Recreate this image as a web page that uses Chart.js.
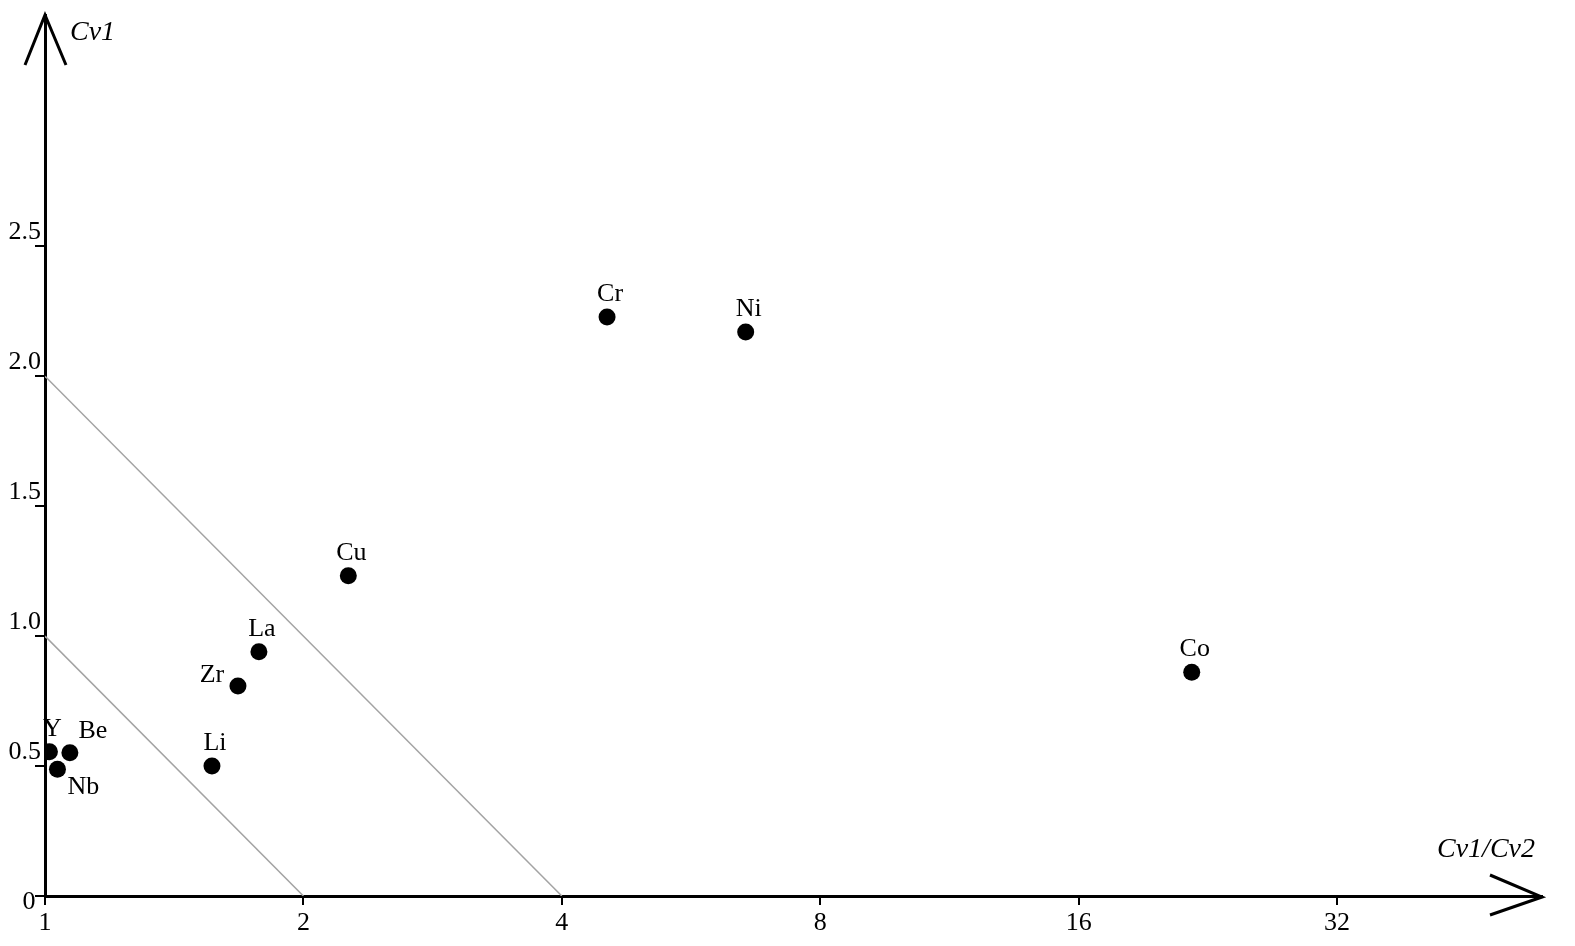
<!DOCTYPE html>
<html>
    <head>
        <title>Cv1 - Cv1/Cv2</title>
        <meta charset="UTF-8">
        <script src="https://cdn.jsdelivr.net/npm/chart.js"></script>
        <style>
            body { margin: 0; background: #fff; }
            canvas { display: block; }
        </style>
    </head>
    <body>
        <canvas id='myChart' width='1575' height='946'></canvas>
        <script>
            // elements and their coordinates
            const elements = ['Y', 'Be', 'Nb', 'Li', 'Zr', 'La', 'Cu', 'Cr', 'Ni', 'Co'];
            const ratioValues = [1.012, 1.069, 1.034, 1.565, 1.678, 1.775, 2.256, 4.516, 6.55, 21.67];
            const cv1Values = [0.555, 0.551, 0.488, 0.500, 0.808, 0.940, 1.232, 2.228, 2.170, 0.861];

            // boundary lines
            const innerLineX = [1, 2];
            const innerLineY = [1, 0];
            const outerLineX = [1, 4];
            const outerLineY = [2, 0];

            // tick labels
            const xTicks = [1, 2, 4, 8, 16, 32];
            const yTicks = [0, 0.5, 1.0, 1.5, 2.0, 2.5];

            // where each element name sits relative to its dot
            let labelPlace = ['top', 'topRight', 'bottomRight', 'top', 'left', 'top', 'top', 'top', 'top', 'top'];
            let placeOffsets = {
                top: [3, -23],
                topRight: [23, -22],
                bottomRight: [26, 18],
                left: [-26, -11]
            };

            let serif = "'Liberation Serif', 'DejaVu Serif', serif";

            function toPoints(xs, ys) {
                return xs.map((x, i) => ({x: x, y: ys[i]}));
            }

            let decorations = {
                id: 'decorations',
                afterDraw(chart) {
                    let ctx = chart.ctx;
                    let area = chart.chartArea;
                    let yScale = chart.scales.y;
                    ctx.save();

                    // arrow heads
                    ctx.strokeStyle = '#000';
                    ctx.lineWidth = 3;
                    ctx.lineJoin = 'miter';
                    ctx.beginPath();
                    ctx.moveTo(area.left - 20, area.top + 50);
                    ctx.lineTo(area.left, area.top);
                    ctx.lineTo(area.left + 21, area.top + 50);
                    ctx.stroke();
                    ctx.beginPath();
                    ctx.moveTo(area.right - 52, area.bottom - 21);
                    ctx.lineTo(area.right, area.bottom + 1);
                    ctx.lineTo(area.right - 52, area.bottom + 19);
                    ctx.stroke();

                    // axis titles
                    ctx.fillStyle = '#000';
                    ctx.font = "italic 28px " + serif;
                    ctx.textBaseline = 'middle';
                    ctx.textAlign = 'left';
                    ctx.fillText('Cv1', area.left + 25, area.top + 18);
                    ctx.textAlign = 'center';
                    ctx.fillText('Cv1/Cv2', area.right - 56, area.bottom - 46);

                    // origin label
                    ctx.font = "26px " + serif;
                    ctx.fillText('0', area.left - 16, yScale.getPixelForValue(0) + 6);

                    // element names
                    ctx.font = "26px " + serif;
                    let meta = chart.getDatasetMeta(0);
                    meta.data.forEach((pt, i) => {
                        let off = placeOffsets[labelPlace[i]];
                        ctx.fillText(elements[i], pt.x + off[0], pt.y + off[1]);
                    });
                    ctx.restore();
                }
            };

            let ctx = document.getElementById('myChart').getContext('2d');
            var chart = new Chart(ctx, {
                type: 'scatter',
                data: {
                    datasets: [{
                        label: 'Elements',
                        data: toPoints(ratioValues, cv1Values),
                        backgroundColor: '#000',
                        borderWidth: 0,
                        pointRadius: 8.5,
                        order: 0
                    }, {
                        label: 'inner',
                        data: toPoints(innerLineX, innerLineY),
                        showLine: true,
                        borderColor: '#a3a3a3',
                        borderWidth: 1.5,
                        pointRadius: 0,
                        order: 1
                    }, {
                        label: 'outer',
                        data: toPoints(outerLineX, outerLineY),
                        showLine: true,
                        borderColor: '#a3a3a3',
                        borderWidth: 1.5,
                        pointRadius: 0,
                        order: 1
                    }]
                },
                options: {
                    responsive: false,
                    animation: false,
                    devicePixelRatio: 1,
                    layout: {
                        padding: {top: 15, right: 33, left: 0, bottom: 0}
                    },
                    plugins: {
                        legend: {display: false},
                        tooltip: {enabled: false}
                    },
                    scales: {
                        x: {
                            type: 'logarithmic',
                            min: 1,
                            max: 55.45,
                            afterBuildTicks: (scale) => {
                                scale.ticks = xTicks.map(v => ({value: v}));
                            },
                            afterFit: (scale) => { scale.height = 50; },
                            border: {display: true, color: '#000', width: 3},
                            grid: {
                                drawOnChartArea: false,
                                drawTicks: true,
                                tickLength: 9,
                                color: '#000',
                                lineWidth: 2
                            },
                            ticks: {
                                color: '#000',
                                font: {family: serif, size: 26},
                                padding: 3,
                                maxRotation: 0,
                                autoSkip: false,
                                callback: (v) => String(v)
                            }
                        },
                        y: {
                            type: 'linear',
                            min: 0,
                            max: 3.39,
                            afterBuildTicks: (scale) => {
                                scale.ticks = yTicks.map(v => ({value: v}));
                            },
                            afterFit: (scale) => { scale.width = 45; },
                            border: {display: true, color: '#000', width: 3},
                            grid: {
                                drawOnChartArea: false,
                                drawTicks: true,
                                tickLength: 10,
                                color: '#000',
                                lineWidth: 2
                            },
                            ticks: {
                                color: '#000',
                                font: {family: serif, size: 26},
                                padding: -6,
                                labelOffset: -14,
                                autoSkip: false,
                                callback: (v) => v === 0 ? '' : v.toFixed(1)
                            }
                        }
                    }
                },
                plugins: [decorations]
            });
        </script>
    </body>
</html>
